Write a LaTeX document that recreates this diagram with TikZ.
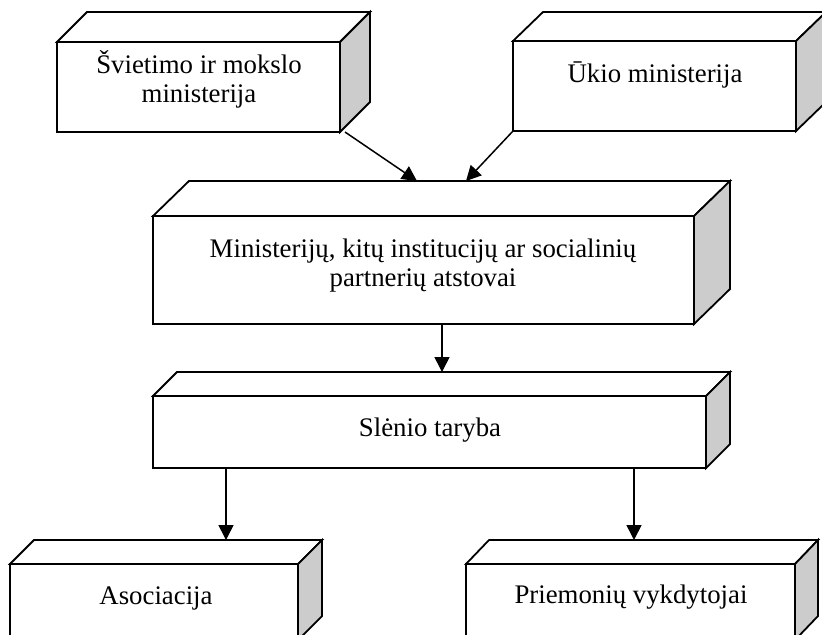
\documentclass[tikz,border=0pt]{standalone}
\usepackage{fontspec}
\setmainfont{Liberation Serif}
\usetikzlibrary{arrows.meta,calc,fit}
\definecolor{sidegray}{RGB}{204,204,204}
\newcommand\cubfaces[3]{%
  \draw[face,fill=white] (#1.north west) -- ++(#2,-#3) -- ($(#1.north east)+(#2,-#3)$) -- (#1.north east) -- cycle;
  \draw[face,fill=sidegray] (#1.north east) -- ++(#2,-#3) -- ($(#1.south east)+(#2,-#3)$) -- (#1.south east) -- cycle;}
\begin{document}
\begin{tikzpicture}[x=0.5pt,y=-0.5pt,
  frontbox/.style={draw,line width=0.9pt,inner sep=0pt,outer sep=0pt,fill=white},
  face/.style={draw,line width=0.9pt,line join=miter},
  txt/.style={font=\fontsize{13.4pt}{14.5pt}\selectfont,align=center,inner sep=0pt},
  arr/.style={line width=0.75pt,-{Triangle[length=7.5pt,width=7.5pt]}}]
\clip (0,0) rectangle (822,634);
\fill[white] (0,0) rectangle (822,634);
% boxes
\node[frontbox,fit={(57,42) (340,132)}] (A) {};
\cubfaces{A}{30}{30}
\node[frontbox,fit={(513,41) (796,131)}] (B) {};
\cubfaces{B}{30}{29}
\node[frontbox,fit={(153,216) (694,324)}] (C) {};
\cubfaces{C}{36}{35}
\node[frontbox,fit={(153,396) (706,468)}] (D) {};
\cubfaces{D}{24}{24}
\node[frontbox,fit={(10,564) (298,640)}] (E) {};
\cubfaces{E}{24}{24}
\node[frontbox,fit={(466,564) (795,640)}] (F) {};
\cubfaces{F}{23}{24}
% texts (base = baseline of the last line)
\node[txt,anchor=base] (At) at (199,102) {Švietimo ir mokslo\\ministerija};
\node[txt,anchor=base] (Bt) at (655,82) {Ūkio ministerija};
\node[txt,anchor=base] (Ct) at (423,286) {Ministerijų, kitų institucijų ar socialinių\\partnerių atstovai};
\node[txt,anchor=base] (Dt) at (430,436) {Slėnio taryba};
\node[txt,anchor=base] (Et) at (156,604) {Asociacija};
\node[txt,anchor=base] (Ft) at (631,603) {Priemonių vykdytojai};
% connectors
\coordinate (ca) at (417,181);
\coordinate (cb) at (466,181);
\coordinate (cd) at (442,372);
\coordinate (de) at (226,540);
\coordinate (df) at (634,540);
\draw[arr] ([xshift=2.5pt]A.south east) -- (ca);
\draw[arr] (B.south west) -- (cb);
\draw[arr] (C.south -| cd) -- (cd);
\draw[arr] (D.south -| de) -- (de);
\draw[arr] (D.south -| df) -- (df);
\end{tikzpicture}
\end{document}
